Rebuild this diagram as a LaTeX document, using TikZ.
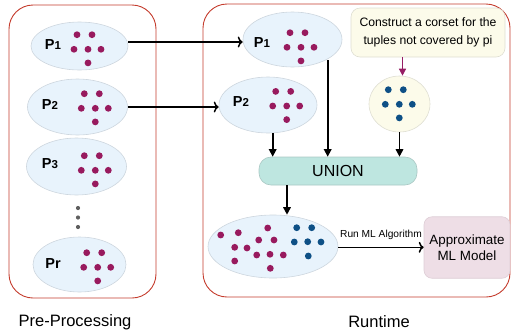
\documentclass[tikz,border=0pt]{standalone}
\usepackage{fontspec}
\setmainfont{Liberation Sans}
\usetikzlibrary{arrows.meta,shapes.geometric,calc}

\definecolor{dotpurple}{RGB}{152,26,94}
\definecolor{dotblue}{RGB}{14,80,134}
\definecolor{partfill}{RGB}{232,243,252}
\definecolor{partline}{RGB}{205,214,222}
\definecolor{frame}{RGB}{196,60,45}
\definecolor{notefill}{RGB}{252,251,234}
\definecolor{noteline}{RGB}{222,222,210}
\definecolor{unionfill}{RGB}{190,230,224}
\definecolor{unionline}{RGB}{170,200,196}
\definecolor{modelfill}{RGB}{238,222,230}
\definecolor{modelline}{RGB}{222,206,214}
\definecolor{arrowpurple}{RGB}{150,30,100}
\definecolor{gapgray}{RGB}{95,95,95}

\newcommand{\fsz}[1]{\fontsize{#1}{#1}\selectfont}

\tikzset{
  stagebox/.style={draw=frame, line width=0.9pt, rounded corners=24pt},
  partition/.style={ellipse, draw=partline, fill=partfill, line width=0.6pt, inner sep=0pt},
  pdot/.style={circle, fill=dotpurple, inner sep=0pt, minimum size=6.8pt},
  bdot/.style={circle, fill=dotblue, inner sep=0pt, minimum size=6.8pt},
  gdot/.style={circle, fill=gapgray, inner sep=0pt, minimum size=4.2pt},
  plabel/.style={font=\bfseries\fsz{14.5}, inner sep=0pt},
  flow/.style={line width=1.6pt, -{To[length=5pt, width=11pt, line width=1.5pt]}},
  down/.style={line width=1.6pt, -{Triangle[length=7.5pt, width=7.5pt]}},
  caption/.style={font=\fsz{16.5}, inner sep=0pt},
}

% six-dot cluster standing for the tuples of one partition
\newcommand{\cluster}[3]{%
  \foreach \dx/\dy [count=\k] in {-11/-14.6, 4/-14.6, -14/0, 0/0, 13/0, 0/13.6}
    \node[#1] (#2-\k) at ($(#3)+(\dx,\dy)$) {};
}

\begin{document}
\begin{tikzpicture}[x=1pt, y=-1pt]
  \useasboundingbox (0,0) rectangle (512,333);

  % ---- stage frames ----
  \draw[stagebox] (9,5) rectangle (156,298);
  \draw[stagebox] (203,4) rectangle (510,297);
  \node[caption] (preproc) at (75,322) {Pre-Processing};
  \node[caption] (runtime) at (379,322) {Runtime};

  % ---- pre-processing partitions ----
  \node[partition, minimum width=97pt, minimum height=48pt] (l1) at (79.5,46) {};
  \node[partition, minimum width=100pt, minimum height=56pt] (l2) at (77.5,107) {};
  \node[partition, minimum width=100pt, minimum height=57pt] (l3) at (76.5,166.5) {};
  \node[partition, minimum width=93pt, minimum height=55pt] (lr) at (79.5,264.5) {};

  \node[plabel] (l1t) at (53,44.5) {P\fsz{11.5}1};
  \node[plabel] (l2t) at (50,105) {P\fsz{11.5}2};
  \node[plabel] (l3t) at (50,164) {P\fsz{11.5}3};
  \node[plabel] (lrt) at (53,264) {Pr};

  \coordinate (c1) at (88,49.3);
  \coordinate (c2) at (95.3,108.3);
  \coordinate (c3) at (95.3,170.3);
  \coordinate (cr) at (97.7,267.3);
  \cluster{pdot}{d1}{c1}
  \cluster{pdot}{d2}{c2}
  \cluster{pdot}{d3}{c3}
  \cluster{pdot}{dr}{cr}

  \node[gdot] (g1) at (78,208) {};
  \node[gdot] (g2) at (78,217.5) {};
  \node[gdot] (g3) at (78,227) {};

  % ---- runtime partitions ----
  \node[partition, minimum width=99pt, minimum height=55pt] (r1) at (292.5,39.5) {};
  \node[partition, minimum width=98pt, minimum height=56pt] (r2) at (268,105) {};
  \node[plabel] (r1t) at (262,42.5) {P\fsz{11.5}1};
  \node[plabel] (r2t) at (241,101.5) {P\fsz{11.5}2};
  \coordinate (rc1) at (301,47.3);
  \coordinate (rc2) at (286.7,106);
  \cluster{pdot}{e1}{rc1}
  \cluster{pdot}{e2}{rc2}

  % ---- coreset for the uncovered tuples ----
  \node[draw=noteline, fill=notefill, rounded corners=9pt, line width=0.6pt,
        minimum width=154pt, minimum height=49pt, align=center,
        font=\fsz{12.2}, inner sep=0pt] (note) at (428,32.5)
        {Construct a corset for the\\[5.5pt]tuples not covered by pi};
  \node[ellipse, draw=noteline, fill=notefill, line width=0.6pt, inner sep=0pt,
        minimum width=61pt, minimum height=56pt] (core) at (399.5,104) {};
  \coordinate (cc) at (399.3,104.3);
  \cluster{bdot}{b}{cc}

  % ---- union ----
  \node[draw=unionline, fill=unionfill, rounded corners=12pt, line width=0.6pt,
        minimum width=158pt, minimum height=28pt, inner sep=0pt,
        font=\fsz{16}] (union) at (338,171) {UNION};

  % ---- merged sample ----
  \node[partition, minimum width=130pt, minimum height=63pt] (merged) at (273,246.5) {};
  \foreach \px/\py [count=\k] in {220.7/235, 238.3/232.7, 267.7/228, 258.7/240, 274/240,
      234.7/247.3, 247/248, 256.7/255, 270/254.3, 283.3/255, 234.7/261, 270.3/268.3}
    \node[pdot] (m\k) at (\px,\py) {};
  \foreach \px/\py [count=\k] in {296.7/227.7, 311.7/227.7, 294.3/242, 307.7/241.7, 321/242, 308.3/256}
    \node[bdot] (n\k) at (\px,\py) {};

  % ---- model ----
  \node[draw=modelline, fill=modelfill, rounded corners=8pt, line width=0.6pt,
        minimum width=86pt, minimum height=61.5pt, inner sep=0pt, align=center,
        font=\fsz{13.4}] (model) at (467,247.5) {Approximate\\[3pt]ML Model};

  % ---- connectors ----
  \draw[flow] (l1.east |- 0,42) -- (r1.west |- 0,42);
  \draw[flow] (l2.east |- 0,107) -- (r2.west |- 0,107);

  \draw[down] (r2.south -| 272.7,0) -- (union.north -| 272.7,0);
  \draw[down] (327.7,60) -- (union.north -| 327.7,0);
  \draw[down] (core.south) -- (union.north -| core.south);
  \draw[-{Triangle[length=7pt, width=7pt]}, line width=1.3pt, draw=arrowpurple, fill=arrowpurple]
       (note.south -| 402.5,0) -- (core.north -| 402.5,0);

  \draw[down] (union.south -| 287,0) -- (merged.north -| 287,0);
  \draw[flow] (merged.east |- 0,247.3) -- (model.west |- 0,247.3)
     node[midway, above=7pt, font=\fsz{10.2}, inner sep=0pt] (runml) {Run ML Algorithm};
\end{tikzpicture}
\end{document}
